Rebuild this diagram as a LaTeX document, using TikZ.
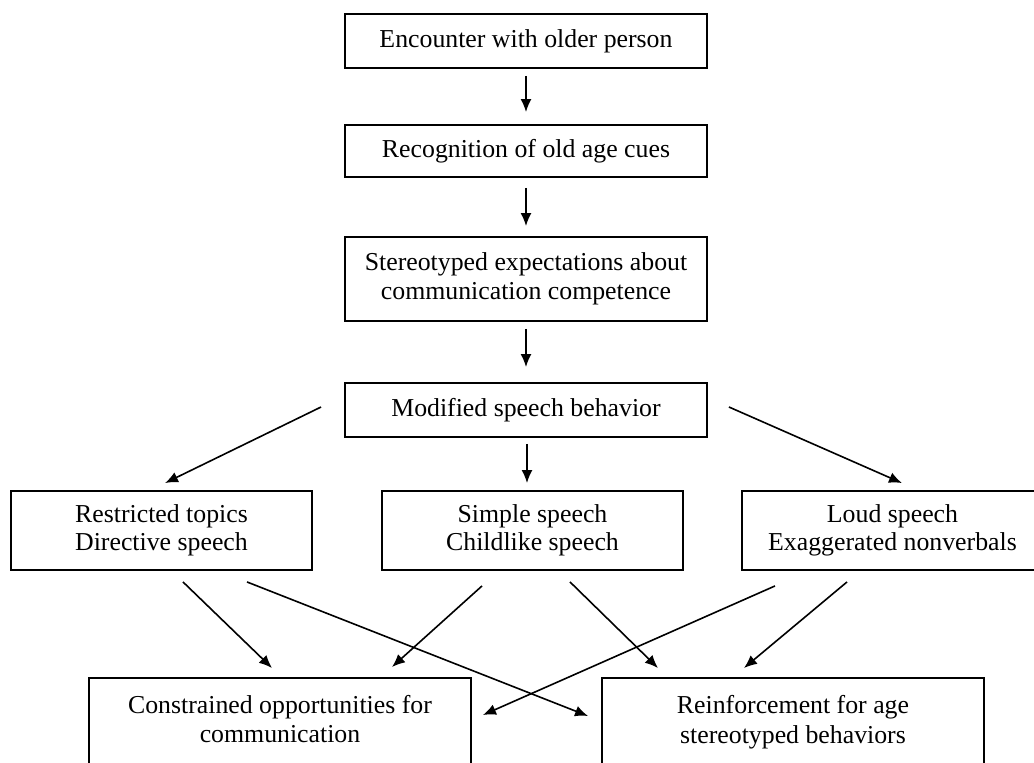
\documentclass[tikz,border=0pt]{standalone}
\usepackage{fontspec}
\setmainfont{Liberation Serif}
\usetikzlibrary{arrows.meta}
\begin{document}
\begin{tikzpicture}[x=1pt,y=-1pt,
  txt/.style={inner sep=0pt, align=center, font=\fontsize{25.8}{29.5}\selectfont},
  box/.style={txt, draw, line width=1.9pt},
  arr/.style={line width=1.6pt, -{Latex[length=13pt,width=11pt]}}]
\useasboundingbox (0,0) rectangle (1034,763);
\clip (0,0) rectangle (1034,763);
\fill[white] (0,0) rectangle (1034,763);

\node[box, minimum width=362, minimum height=54] (e) at (526,41) {Encounter with older person};
\node[box, minimum width=362, minimum height=52] (r) at (526,151) {Recognition of old age cues};
\node[box, minimum width=362, minimum height=84] (s) at (526,279) {Stereotyped expectations about\\communication competence};
\node[box, minimum width=362, minimum height=54] (m) at (526,410) {Modified speech behavior};

\node[box, minimum width=301, minimum height=79] (rt) at (161.5,530.5) {Restricted topics\\[-1.5pt]Directive speech};
\node[box, minimum width=301, minimum height=79] (ss) at (532.5,530.5) {Simple speech\\[-1.5pt]Childlike speech};
\node[box, minimum width=301, minimum height=79] (ls) at (892.5,530.5) {Loud speech\\[-1.5pt]Exaggerated nonverbals};

\node[box, anchor=north, minimum width=382, minimum height=130] (co) at (280,677) {};
\node[txt] (cot) at (280,719) {Constrained opportunities for\\communication};
\node[box, anchor=north, minimum width=382, minimum height=130] (re) at (793,677) {};
\node[txt] (ret) at (793,722) {Reinforcement for age\\stereotyped behaviors};

\draw[arr] ([shift={(0,7)}]e.south) -- ([shift={(0,-12)}]r.north);
\draw[arr] ([shift={(0,10)}]r.south) -- ([shift={(0,-10)}]s.north);
\draw[arr] ([shift={(0,7)}]s.south) -- ([shift={(0,-15)}]m.north);
\draw[arr] ([shift={(1,6)}]m.south) -- ([shift={(-5.5,-7)}]ss.north);
\draw[arr] ([shift={(-23,-3)}]m.west) -- ([shift={(3.5,-7)}]rt.north);
\draw[arr] ([shift={(21,-3)}]m.east) -- ([shift={(9.5,-7)}]ls.north);

\draw[arr] ([shift={(21.5,11)}]rt.south) -- ([shift={(-8,-9)}]co.north);
\draw[arr] ([shift={(85.5,11)}]rt.south) -- ([shift={(-13,39)}]re.north west);
\draw[arr] ([shift={(-50.5,15)}]ss.south) -- ([shift={(112,-10)}]co.north);
\draw[arr] ([shift={(37.5,11)}]ss.south) -- ([shift={(-135,-9)}]re.north);
\draw[arr] ([shift={(-117.5,15)}]ls.south) -- ([shift={(11,38)}]co.north east);
\draw[arr] ([shift={(-45.5,11)}]ls.south) -- ([shift={(-49,-9)}]re.north);
\end{tikzpicture}
\end{document}
